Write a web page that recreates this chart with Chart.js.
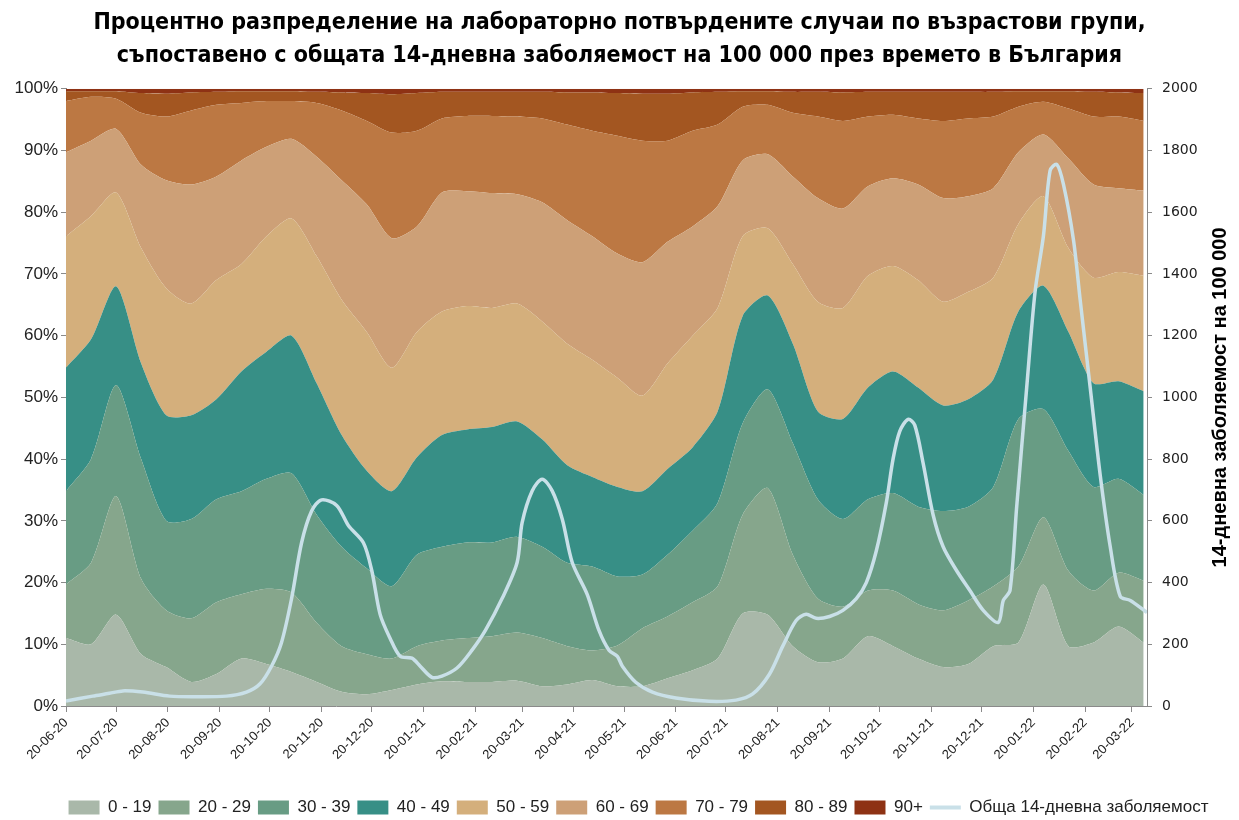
<!DOCTYPE html>
<html>
<head>
<meta charset="utf-8">
<script src="https://cdn.jsdelivr.net/npm/chart.js@4.4.0/dist/chart.umd.min.js"></script>
<style>
  html, body { margin: 0; padding: 0; background: #fff; }
  #contenedor { width: 1239px; height: 820px; }
</style>
</head>
<body>
<div id="contenedor"><canvas id="graficoEdades"></canvas></div>
<script>
// Días desde 20-06-2020 en los que se leyó el gráfico
const dias = [0, 15, 30, 45, 60, 75, 90, 105, 120, 135, 150, 165, 180, 195, 210, 225, 240, 255, 270, 285, 300, 315,
  330, 345, 360, 375, 390, 405, 420, 435, 450, 465, 480, 495, 510, 525, 540, 555, 570, 585, 600, 615, 630, 645];

// Borde superior (acumulado, %) de cada grupo de edad
const hasta19 = [11.0, 10.0, 14.8, 8.4, 6.3, 3.9, 5.2, 7.7, 6.8, 5.5, 3.9, 2.3, 1.9, 2.6, 3.5, 4.0, 3.9, 3.9, 4.1, 3.2, 3.5, 4.2,
  3.2, 3.2, 4.5, 5.8, 7.7, 15.0, 14.8, 9.7, 7.1, 7.7, 11.3, 9.7, 7.7, 6.3, 6.8, 9.7, 10.3, 19.7, 9.7, 10.3, 12.9, 10.3];
const hasta29 = [19.7, 23.2, 34.0, 20.6, 15.5, 14.2, 16.8, 18.1, 19.0, 18.4, 13.5, 9.7, 8.4, 7.7, 9.7, 10.6, 11.0, 11.3, 11.9, 11.0, 9.7, 9.0,
  9.8, 12.6, 14.5, 16.8, 19.4, 31.0, 35.3, 24.5, 17.4, 16.1, 18.7, 18.7, 16.5, 15.5, 17.1, 19.4, 22.6, 30.6, 21.9, 18.7, 21.6, 20.3];
const hasta39 = [34.8, 40.0, 52.0, 40.0, 30.0, 30.3, 33.5, 34.8, 36.8, 37.7, 31.0, 25.8, 22.3, 19.4, 24.5, 25.8, 26.5, 26.5, 27.4, 25.8, 23.2, 22.6,
  21.0, 21.3, 24.5, 28.4, 32.9, 45.8, 51.3, 42.6, 33.5, 30.3, 33.5, 34.5, 32.3, 31.6, 32.3, 35.5, 46.5, 48.1, 41.3, 35.5, 36.8, 34.2];
const hasta49 = [54.8, 59.4, 68.0, 55.5, 47.1, 47.1, 49.7, 54.2, 57.4, 60.0, 52.3, 43.9, 38.1, 34.8, 40.3, 43.9, 44.8, 45.2, 46.1, 43.2, 39.0, 37.1,
  35.5, 34.8, 38.4, 41.9, 47.7, 63.2, 66.5, 58.7, 47.7, 46.5, 51.6, 54.2, 51.6, 48.7, 49.7, 52.9, 63.9, 68.1, 60.6, 52.3, 52.6, 51.0];
const hasta59 = [76.1, 79.4, 83.2, 74.2, 67.7, 65.2, 69.0, 71.6, 76.1, 79.0, 72.9, 65.8, 60.6, 54.8, 60.6, 63.9, 64.8, 64.5, 65.2, 62.3, 58.7, 56.1,
  53.2, 50.3, 55.5, 60.0, 64.5, 76.1, 77.4, 71.6, 65.5, 64.5, 69.7, 71.3, 69.0, 65.5, 67.1, 69.4, 78.1, 82.6, 74.2, 69.4, 70.3, 69.7];
const hasta69 = [89.7, 91.6, 93.5, 87.7, 85.2, 84.5, 85.8, 88.4, 90.6, 91.9, 89.0, 85.2, 81.3, 75.8, 77.7, 83.2, 83.4, 83.1, 82.9, 81.6, 78.7, 76.1,
  73.3, 71.9, 75.2, 77.7, 81.0, 88.4, 89.4, 85.8, 82.3, 80.6, 84.2, 85.5, 84.5, 82.3, 82.6, 83.9, 89.7, 92.6, 88.7, 84.5, 83.9, 83.5];
const hasta79 = [98.0, 98.7, 98.4, 96.1, 95.5, 96.5, 97.4, 97.7, 98.0, 98.0, 97.7, 96.5, 94.8, 92.9, 93.2, 95.2, 95.6, 95.6, 95.5, 95.2, 94.2, 93.2,
  92.4, 91.6, 91.6, 93.2, 94.2, 97.1, 97.4, 96.1, 95.5, 94.8, 95.5, 95.8, 95.2, 94.8, 95.2, 95.5, 97.1, 97.9, 96.8, 95.5, 95.5, 94.8];
const hasta89 = [99.6, 99.6, 99.6, 99.3, 99.2, 99.4, 99.5, 99.6, 99.6, 99.6, 99.5, 99.4, 99.3, 99.1, 99.3, 99.5, 99.5, 99.5, 99.5, 99.5, 99.4, 99.4,
  99.3, 99.2, 99.2, 99.4, 99.5, 99.6, 99.6, 99.5, 99.5, 99.4, 99.5, 99.5, 99.5, 99.5, 99.5, 99.5, 99.6, 99.6, 99.6, 99.5, 99.4, 99.3];

// Incidencia de 14 días por 100 000 (eje derecho)
const diasIncidencia = [0, 16, 26, 34, 46, 62, 76, 96, 108, 116, 123, 129, 135, 141, 147, 153, 162, 169, 178, 183, 188, 194, 200, 207, 212,
  219, 225, 234, 243, 251, 261, 270, 273, 279, 285, 291, 297, 303, 312, 319, 325, 330, 333, 341, 351, 365, 385, 401, 411, 421,
  429, 437, 443, 449, 457, 465, 473, 479, 485, 491, 495, 499, 504, 508, 513, 519, 525, 533, 541, 549, 558, 561, 565, 569, 575,
  580, 585, 589, 593, 597, 603, 607, 613, 619, 625, 631, 637, 647];
const incidencia = [16, 32, 41, 49, 45, 32, 30, 32, 45, 71, 129, 206, 348, 529, 632, 668, 650, 585, 529, 439, 297, 219, 161, 155, 129,
  93, 97, 123, 181, 245, 348, 465, 594, 697, 735, 697, 606, 465, 361, 245, 181, 161, 129, 77, 45, 26, 15, 19, 39, 103,
  194, 277, 297, 284, 290, 310, 348, 400, 503, 660, 800, 890, 929, 910, 787, 619, 516, 439, 374, 310, 271, 342, 374, 645, 1032,
  1342, 1523, 1735, 1755, 1690, 1510, 1316, 1032, 748, 516, 355, 342, 303];

const grupos = ["0 - 19", "20 - 29", "30 - 39", "40 - 49", "50 - 59", "60 - 69", "70 - 79", "80 - 89", "90+"];
const colores = ["#a9b8a9", "#86a68c", "#689c84", "#378f86", "#d4af7c", "#cda077", "#bc7843", "#a35621", "#8e3214"];
const etiquetasX = ["20-06-20", "20-07-20", "20-08-20", "20-09-20", "20-10-20", "20-11-20", "20-12-20", "20-01-21", "20-02-21",
  "20-03-21", "20-04-21", "20-05-21", "20-06-21", "20-07-21", "20-08-21", "20-09-21", "20-10-21", "20-11-21", "20-12-21",
  "20-01-22", "20-02-22", "20-03-22"];

const inicio = Date.UTC(2020, 5, 20);
const aDia = (txt) => {
  const [d, m, a] = txt.split("-").map(Number);
  return Math.round((Date.UTC(2000 + a, m - 1, d) - inicio) / 86400000);
};
const ticksX = etiquetasX.map(aDia);

const bordes = [hasta19, hasta29, hasta39, hasta49, hasta59, hasta69, hasta79, hasta89, hasta89];
const fuente = "'Liberation Sans', Arial, sans-serif";

const datasets = grupos.map((g, i) => ({
  label: g,
  data: dias.map((d, j) => ({ x: d, y: bordes[i][j] })),
  backgroundColor: colores[i],
  borderWidth: 0,
  pointRadius: 0,
  tension: 0.25,
  fill: i === 0 ? "origin" : i === 8 ? "end" : "-1",
  yAxisID: "y",
}));

datasets.push({
  label: "Обща 14-дневна заболяемост",
  data: diasIncidencia.map((d, j) => ({ x: d, y: incidencia[j] })),
  borderColor: "#c9e0e8",
  backgroundColor: "#c9e0e8",
  borderWidth: 3.5,
  pointRadius: 0,
  tension: 0.3,
  fill: false,
  yAxisID: "y1",
});

// Título del eje derecho, de abajo hacia arriba
const tituloDerecho = {
  id: "tituloDerecho",
  afterLayout(chart) {
    // la leyenda del original está un poco desplazada a la derecha
    chart.legend.left += 19;
    chart.legend.right += 19;
  },
  afterDraw(chart) {
    const { ctx, chartArea } = chart;
    ctx.save();
    ctx.translate(chart.width - 19, (chartArea.top + chartArea.bottom) / 2);
    ctx.rotate(-Math.PI / 2);
    ctx.font = "bold 20px " + fuente;
    ctx.fillStyle = "#000";
    ctx.textAlign = "center";
    ctx.textBaseline = "middle";
    ctx.fillText("14-дневна заболяемост на 100 000", 0, 0);
    ctx.restore();
  },
};

const ejeGris = "#8a8a8a";

new Chart(document.getElementById("graficoEdades"), {
  type: "line",
  data: { datasets },
  plugins: [tituloDerecho],
  options: {
    responsive: true,
    maintainAspectRatio: false,
    animation: false,
    layout: { padding: { bottom: -6 } },
    plugins: {
      filler: { drawTime: "beforeDatasetsDraw" },
      tooltip: { enabled: false },
      title: {
        display: true,
        text: [
          "Процентно разпределение на лабораторно потвърдените случаи по възрастови групи,",
          "съпоставено с общата 14-дневна заболяемост на 100 000 през времето в България",
        ],
        color: "#000",
        font: { family: "'Liberation Sans Narrow', 'DejaVu Sans Condensed', " + fuente, size: 23, weight: "bold", lineHeight: 1.43 },
        padding: { top: 7, bottom: 16 },
      },
      legend: {
        position: "bottom",
        labels: {
          color: "#222",
          font: { family: fuente, size: 17 },
          usePointStyle: true,
          pointStyleWidth: 31,
          boxHeight: 14,
          padding: 7,
          generateLabels: (chart) => {
            const items = Chart.defaults.plugins.legend.labels.generateLabels(chart);
            items.forEach((it, i) => {
              if (i < 9) {
                it.pointStyle = "rect";
                it.lineWidth = 0;
                it.fillStyle = colores[i];
              } else {
                it.pointStyle = "line";
                it.lineWidth = 4;
                it.strokeStyle = "#c9e0e8";
              }
            });
            return items;
          },
        },
      },
    },
    scales: {
      x: {
        type: "linear",
        min: 0,
        max: 647,
        afterBuildTicks: (eje) => { eje.ticks = ticksX.map((v) => ({ value: v })); },
        afterFit: (eje) => { eje.height = 86; },
        ticks: {
          autoSkip: false,
          minRotation: 45,
          maxRotation: 45,
          color: "#222",
          font: { family: fuente, size: 13 },
          callback: (v, i) => etiquetasX[i],
        },
        grid: { drawOnChartArea: false, color: ejeGris, tickLength: 6 },
        border: { color: ejeGris },
      },
      y: {
        position: "left",
        min: 0,
        max: 100,
        afterFit: (eje) => { eje.width = 66; },
        ticks: { stepSize: 10, color: "#222", font: { family: fuente, size: 17 }, callback: (v) => v + "%" },
        grid: { drawOnChartArea: false, color: ejeGris, tickLength: 5 },
        border: { color: ejeGris },
      },
      y1: {
        position: "right",
        min: 0,
        max: 2000,
        afterFit: (eje) => { eje.width = 92; },
        ticks: {
          stepSize: 200,
          padding: 10,
          color: "#222",
          font: { family: "'DejaVu Sans', sans-serif", size: 14 },
          callback: (v) => String(v),
        },
        grid: { drawOnChartArea: false, color: ejeGris, tickLength: 5 },
        border: { color: ejeGris },
      },
    },
  },
});
</script>
</body>
</html>
